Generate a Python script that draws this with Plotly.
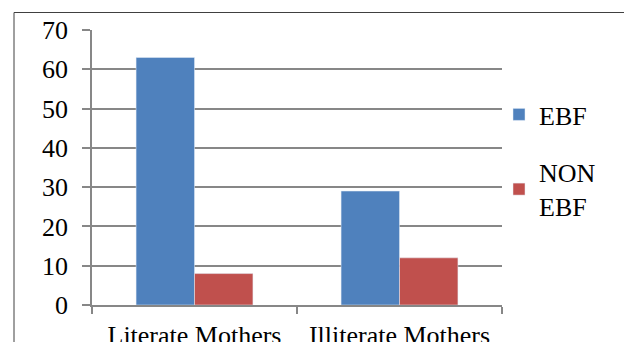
import plotly.graph_objects as go

categories = ["Literate Mothers", "Illiterate Mothers"]
ebf = [63, 29]
non_ebf = [8, 12]
series_names = ["EBF", "NON<br>EBF"]
y_ticks = [0, 10, 20, 30, 40, 50, 60, 70]

FONT = "Liberation Serif"
GRID = "#878787"
FS = 26

fig = go.Figure()
fig.add_trace(go.Bar(x=categories, y=ebf, name=series_names[0], marker_color="#4F81BD",
                     legendgroup="a"))
fig.add_trace(go.Bar(x=categories, y=non_ebf, name=series_names[1], marker_color="#C0504D",
                     legendgroup="b"))

W, H = 624, 342
L, R, T, B = 92, 122, 30, 37
pw, ph = W - L - R, H - T - B

def px_x(p):
    return (p - L) / pw

def px_y(p):
    return (H - B - p) / ph

fig.update_layout(
    width=W, height=H,
    margin=dict(l=L, r=R, t=T, b=B, autoexpand=False),
    paper_bgcolor="white", plot_bgcolor="white",
    font=dict(family=FONT, size=FS, color="black"),
    barmode="group", bargap=0.43, bargroupgap=0,
    showlegend=True,
    legend=dict(x=px_x(499), y=px_y(91), xanchor="left", yanchor="top",
                font=dict(family=FONT, size=FS, color="black"),
                tracegroupgap=21, traceorder="grouped",
                itemwidth=30, bgcolor="rgba(0,0,0,0)"),
    xaxis=dict(type="category", showgrid=False, showline=True, linecolor=GRID, linewidth=1.5,
               ticks="outside", tickson="boundaries", ticklen=7, tickcolor=GRID, tickwidth=1.5,
               automargin=False, ticklabelstandoff=6,
               tickfont=dict(family=FONT, size=FS, color="black")),
    yaxis=dict(range=[0, 70], tickvals=y_ticks, showgrid=True, gridcolor=GRID, gridwidth=1.5,
               showline=True, linecolor=GRID, linewidth=1.5,
               ticks="outside", ticklen=8, tickcolor=GRID, tickwidth=1.5,
               ticklabelstandoff=9, zeroline=False, automargin=False,
               tickfont=dict(family=FONT, size=FS, color="black")),
    shapes=[
        dict(type="line", xref="paper", yref="paper", x0=px_x(14), x1=px_x(640),
             y0=px_y(12.5), y1=px_y(12.5), line=dict(color="#404040", width=1)),
        dict(type="line", xref="paper", yref="paper", x0=px_x(14), x1=px_x(14),
             y0=px_y(12.5), y1=px_y(360), line=dict(color="#404040", width=1)),
    ],
)

fig.write_html("out.html")
